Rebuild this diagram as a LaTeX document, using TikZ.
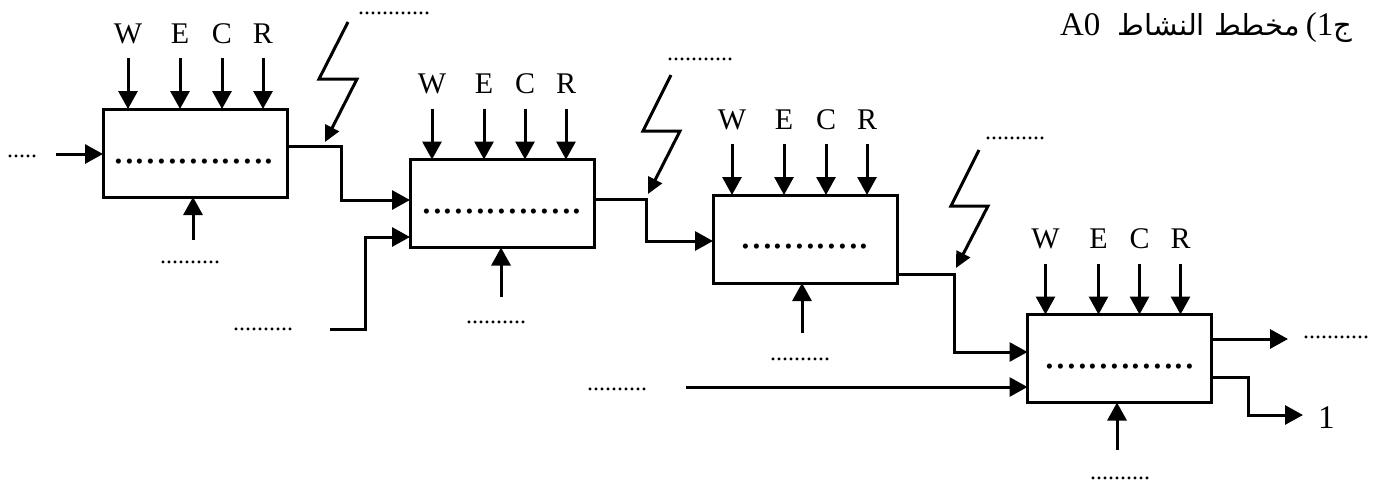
\documentclass[tikz,border=0pt]{standalone}
\usepackage{fontspec}
\setmainfont{Liberation Serif}
\newfontfamily\arabicfont[Script=Arabic]{DejaVu Sans}
\TeXXeTstate=1
\usetikzlibrary{arrows.meta}
\begin{document}
\begin{tikzpicture}[x=1pt,y=-1pt,
  every node/.style={inner sep=0pt, outer sep=0pt},
  procbox/.style={draw, line width=3pt, minimum width=184pt, minimum height=88pt},
  arr/.style={line width=3pt, -{Triangle[length=18pt,width=19pt]}},
  bolt/.style={line width=3pt, -{Triangle[length=16pt,width=15pt]}},
  letter/.style={font=\fontsize{30}{36}\selectfont, anchor=base},
  dotlbl/.style={font=\fontsize{24}{28}\selectfont, anchor=base},
  dotin/.style={font=\fontsize{43}{50}\selectfont, anchor=base},
]
\useasboundingbox (0,0) rectangle (1378,483);

% boxes
\node[procbox] (b1) at (195,153) {};
\node[procbox] (b2) at (502,203.5) {};
\node[procbox] (b3) at (805,239) {};
\node[procbox] (b4) at (1119.5,358.5) {};

% inner dotted texts
\node[dotin] (t1) at (194,163) {...............};
\node[dotin] (t2) at (502,213) {...............};
\node[dotin] (t3) at (805,248) {............};
\node[dotin] (t4) at (1120,368) {..............};

% W E C R arrows
\foreach \bx/\xa/\xb/\xc/\xd in {b1/25/77/119/160, b2/22/74/115/156, b3/19/71/113/154, b4/18/71/112/153} {
  \foreach \l/\dx [count=\i] in {W/\xa, E/\xb, C/\xc, R/\xd} {
    \coordinate (\bx-t\i) at ([xshift=\dx pt, yshift=51pt]\bx.north west);
    \draw[arr] (\bx-t\i) -- (\bx-t\i |- \bx.north);
    \node[letter] (\bx-l\i) at ([yshift=15pt]\bx-t\i) {\l};
  }
}

% bottom (mechanism) arrows
\coordinate (m1) at (193,240);
\coordinate (m2) at (501,297);
\coordinate (m3) at (802,333);
\coordinate (m4) at (1117,450);
\draw[arr] (m1) -- (m1 |- b1.south);
\draw[arr] (m2) -- (m2 |- b2.south);
\draw[arr] (m3) -- (m3 |- b3.south);
\draw[arr] (m4) -- (m4 |- b4.south);

% inputs / flows
\coordinate (in1) at (56,154);
\draw[arr] (in1) -- (in1 -| b1.west);

\coordinate (j1) at (341,146); \coordinate (k1) at (341,200);
\draw[arr] (b1.east |- j1) -- (j1) -- (k1) -- (k1 -| b2.west);

\coordinate (s2) at (330,329); \coordinate (s2c) at (365,237);
\draw[arr] (s2) -| (s2c) -- (s2c -| b2.west);

\coordinate (j2) at (646,199); \coordinate (k2) at (646,241);
\draw[arr] (b2.east |- j2) -- (j2) -- (k2) -- (k2 -| b3.west);

\coordinate (j3) at (954,274); \coordinate (k3) at (954,352);
\draw[arr] (b3.east |- j3) -- (j3) -- (k3) -- (k3 -| b4.west);

\coordinate (s4) at (686,387);
\draw[arr] (s4) -- (s4 -| b4.west);

\coordinate (o4a) at (1288,339);
\draw[arr] (b4.east |- o4a) -- (o4a);
\coordinate (o4b) at (1248,377); \coordinate (o4c) at (1303,415);
\draw[arr] (b4.east |- o4b) -- (o4b) |- (o4c);

% lightning bolts
\coordinate (z1a) at (348,22); \coordinate (z1b) at (319,79);
\coordinate (z1c) at (357,79); \coordinate (z1d) at (325,142);
\draw[bolt] (z1a) -- (z1b) -- (z1c) -- (z1d);
\coordinate (z2a) at (671,75); \coordinate (z2b) at (643,131);
\coordinate (z2c) at (680,131); \coordinate (z2d) at (648,194);
\draw[bolt] (z2a) -- (z2b) -- (z2c) -- (z2d);
\coordinate (z3a) at (979,150); \coordinate (z3b) at (951,206);
\coordinate (z3c) at (988,206); \coordinate (z3d) at (956,268);
\draw[bolt] (z3a) -- (z3b) -- (z3c) -- (z3d);

% dotted labels
\node[dotlbl] (d1) at (22,157) {.....};
\node[dotlbl] (d2) at (394,14) {............};
\node[dotlbl] (d3) at (190,263) {..........};
\node[dotlbl] (d4) at (263,330) {..........};
\node[dotlbl] (d5) at (496,323) {..........};
\node[dotlbl] (d6) at (700,60) {...........};
\node[dotlbl] (d7) at (800,360) {..........};
\node[dotlbl] (d8) at (1015,139) {..........};
\node[dotlbl] (d9) at (617,390) {..........};
\node[dotlbl] (d10) at (1336,338) {...........};
\node[dotlbl] (d11) at (1120,479) {..........};

% output label 1
\node[font=\fontsize{33}{40}\selectfont, anchor=base west] (one) at (1318,428) {1};

% title
\node[font=\fontsize{33}{38}\selectfont, anchor=base west] (tA) at (1060,35) {A0};
\node[font=\fontsize{33}{38}\selectfont, anchor=base east] (tB) at (1352,35)
  {{\arabicfont\fontsize{29}{34}\selectfont\beginR مخطط النشاط\endR}\hspace{6pt}(1{\arabicfont\fontsize{29}{34}\selectfont ج}};
\end{tikzpicture}
\end{document}
